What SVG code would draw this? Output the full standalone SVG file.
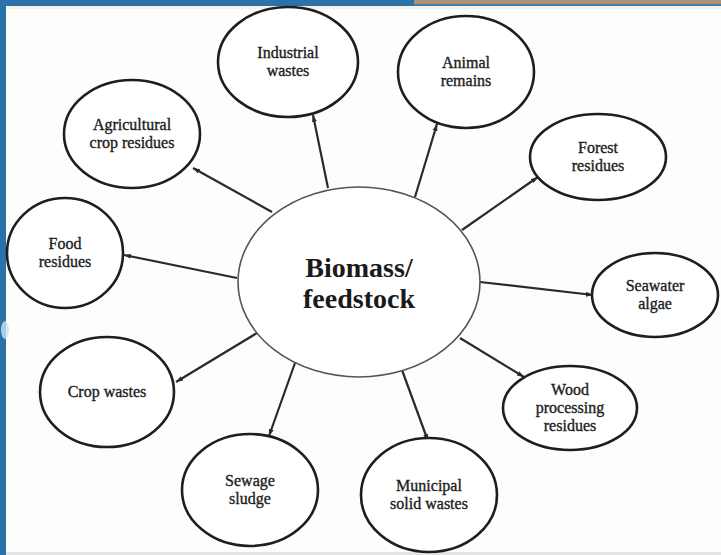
<svg xmlns="http://www.w3.org/2000/svg" width="721" height="555" viewBox="0 0 721 555">
<style>
.node{fill:#fff;stroke:#1e1e1e;stroke-width:2.6}
.hub{fill:#fff;stroke:#555;stroke-width:1.6}
.lbl{font-family:"Liberation Serif","Times New Roman",serif;font-size:16px;fill:#1c1c1c;text-anchor:middle;stroke:#1c1c1c;stroke-width:0.35}
.hubt{font-family:"Liberation Serif","Times New Roman",serif;font-size:28px;font-weight:bold;fill:#1a1a1a;text-anchor:middle}
.conn line{stroke:#2a2a2a;stroke-width:2.2;marker-end:url(#ah)}
</style>
<defs>
<marker id="ah" markerUnits="userSpaceOnUse" markerWidth="8" markerHeight="7" refX="7" refY="3.5" orient="auto">
<path d="M0,1 L7,3.5 L0,6 Z" fill="#2a2a2a"/>
</marker>
</defs>
<rect x="0" y="0" width="721" height="555" fill="#fdfdfc"/>
<g id="frame">
<rect x="0" y="0" width="6" height="555" fill="#2b72aa"/>
<rect x="0" y="0" width="414" height="6" fill="#2b72aa"/>
<rect x="414" y="0" width="307" height="4" fill="#ad9272"/>
<rect x="414" y="4" width="307" height="2" fill="#3a7db2"/>
<rect x="6" y="6" width="715" height="3" fill="#f6f2ea"/>
<ellipse cx="5" cy="330" rx="4" ry="9" fill="#cfe3f2" opacity="0.8"/>
<rect x="6" y="552" width="715" height="3" fill="#e4e4e4"/>
</g>
<g id="connectors" class="conn">
<line x1="328" y1="188" x2="313" y2="115"/>
<line x1="272" y1="212" x2="193" y2="168"/>
<line x1="237" y1="278" x2="124" y2="255"/>
<line x1="257" y1="333" x2="176" y2="382"/>
<line x1="295" y1="363" x2="269" y2="436"/>
<line x1="402" y1="370" x2="428" y2="441"/>
<line x1="460" y1="338" x2="524" y2="377"/>
<line x1="480" y1="282" x2="593" y2="295"/>
<line x1="462" y1="230" x2="538" y2="177"/>
<line x1="415" y1="197" x2="437" y2="124"/>
</g>
<g id="hub">
<ellipse class="hub" cx="359" cy="282" rx="121" ry="95"/>
<text class="hubt" x="359" y="277">Biomass/</text>
<text class="hubt" x="359" y="308">feedstock</text>
</g>
<g id="industrial">
<ellipse class="node" cx="288" cy="62" rx="70" ry="55"/>
<text class="lbl" x="288" y="58">Industrial</text>
<text class="lbl" x="288" y="76">wastes</text>
</g>
<g id="animal">
<ellipse class="node" cx="466" cy="72" rx="68" ry="56"/>
<text class="lbl" x="466" y="68">Animal</text>
<text class="lbl" x="466" y="86">remains</text>
</g>
<g id="agricultural">
<ellipse class="node" cx="132" cy="134" rx="68" ry="54"/>
<text class="lbl" x="132" y="130">Agricultural</text>
<text class="lbl" x="132" y="148">crop residues</text>
</g>
<g id="forest">
<ellipse class="node" cx="598" cy="157" rx="68" ry="43"/>
<text class="lbl" x="598" y="153">Forest</text>
<text class="lbl" x="598" y="171">residues</text>
</g>
<g id="food">
<ellipse class="node" cx="65" cy="253" rx="58" ry="55"/>
<text class="lbl" x="65" y="249">Food</text>
<text class="lbl" x="65" y="267">residues</text>
</g>
<g id="seawater">
<ellipse class="node" cx="655" cy="295" rx="63" ry="42"/>
<text class="lbl" x="655" y="291">Seawater</text>
<text class="lbl" x="655" y="309">algae</text>
</g>
<g id="crop">
<ellipse class="node" cx="107" cy="392" rx="67" ry="55"/>
<text class="lbl" x="107" y="397">Crop wastes</text>
</g>
<g id="wood">
<ellipse class="node" cx="570" cy="408" rx="67" ry="42"/>
<text class="lbl" x="570" y="395">Wood</text>
<text class="lbl" x="570" y="413">processing</text>
<text class="lbl" x="570" y="431">residues</text>
</g>
<g id="sewage">
<ellipse class="node" cx="250" cy="490" rx="68" ry="56"/>
<text class="lbl" x="250" y="486">Sewage</text>
<text class="lbl" x="250" y="504">sludge</text>
</g>
<g id="municipal">
<ellipse class="node" cx="429" cy="495" rx="68" ry="57"/>
<text class="lbl" x="429" y="491">Municipal</text>
<text class="lbl" x="429" y="509">solid wastes</text>
</g>
</svg>
